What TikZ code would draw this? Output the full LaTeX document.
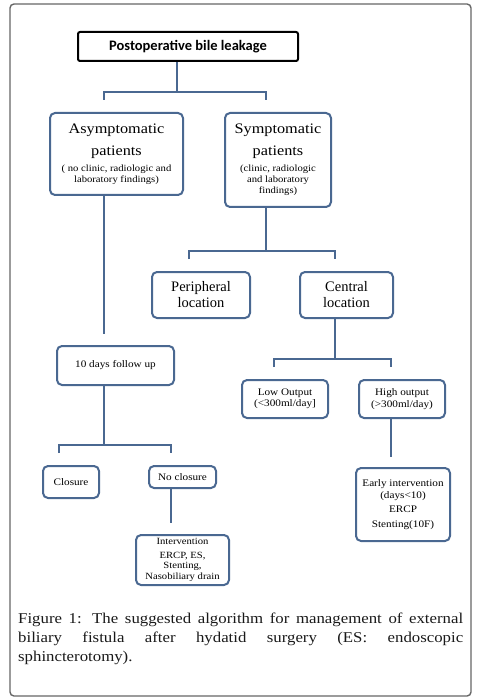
\documentclass[tikz,border=0pt]{standalone}
\usepackage{fontspec}
\setmainfont{Liberation Serif}
\newfontfamily\headfont{Carlito}
\newfontfamily\wideserif[FakeStretch=1.12]{Liberation Serif}
\newcommand{\bigtxt}{\fontsize{14.5}{16}\selectfont}
\newcommand{\smtxt}{\wideserif\fontsize{9.5}{11}\selectfont}
\newcommand{\tinytxt}{\wideserif\fontsize{10}{11.5}\selectfont}
\definecolor{flowblue}{HTML}{4A6891}
\hyphenpenalty=10000
\exhyphenpenalty=10000
\tolerance=10000
\begin{document}
\begin{tikzpicture}[
    x=1pt, y=-1pt,
    box/.style={draw=flowblue, line width=2pt, rounded corners=5pt, fill=white, align=center, inner sep=2pt, font=\smtxt},
    conn/.style={draw=flowblue, line width=2.4pt}
]
\useasboundingbox (0,0) rectangle (476,700);
\draw[gray!80!black, line width=1.4pt, rounded corners=4pt] (10,4) rectangle (471,696);

% top
\node[draw, line width=2pt, rounded corners=2pt, minimum width=220pt, minimum height=29pt, font=\headfont\bfseries\fontsize{14.5}{16}\selectfont] (leak) at (188,46.5) {Postoperative bile leakage};

% first level
\node[box, minimum width=133pt, minimum height=82pt] (asym) at (116.5,154) {\bigtxt Asymptomatic\\[8pt]\bigtxt patients\\[5pt]\smtxt ( no clinic, radiologic and\\\smtxt laboratory findings)};
\node[box, minimum width=106pt, minimum height=94pt] (sym) at (278,160) {\bigtxt Symptomatic\\[8pt]\bigtxt patients\\[5pt]\smtxt (clinic, radiologic\\\smtxt and laboratory\\\smtxt findings)};

% symptomatic branch
\node[box, minimum width=98pt, minimum height=46pt, font=\bigtxt] (peri) at (201,295) {Peripheral\\location};
\node[box, minimum width=93pt, minimum height=46pt, font=\bigtxt] (cent) at (346.5,295) {Central\\location};
\node[box, minimum width=86pt, minimum height=38pt, font=\tinytxt] (low) at (285,399) {Low Output\\(<300ml/day]};
\node[box, minimum width=86pt, minimum height=38pt, font=\tinytxt] (high) at (402,399) {High output\\(>300ml/day)};
\node[box, minimum width=94pt, minimum height=73pt, font=\tinytxt] (early) at (403,504.5) {Early intervention\\(days<10)\\[3pt]ERCP\\[3pt]Stenting(10F)};

% asymptomatic branch
\node[box, minimum width=117pt, minimum height=39pt, font=\tinytxt] (follow) at (115.5,365.5) {10 days follow up};
\node[box, minimum width=56pt, minimum height=32pt, font=\tinytxt] (clos) at (71,482) {Closure};
\node[box, minimum width=67pt, minimum height=22pt, font=\tinytxt] (noclos) at (182.5,477) {No closure};
\node[box, minimum width=93pt, minimum height=50pt, font=\wideserif\fontsize{9.5}{10.5}\selectfont, inner sep=1pt] (interv) at (182.5,560) {Intervention\\[3pt]ERCP, ES,\\Stenting,\\Nasobiliary drain};

% connectors
\coordinate (a1) at (104,100);
\coordinate (a2) at (266,100);
\draw[conn] ([xshift=-11pt]leak.south) -- ++(0,31);
\draw[conn] (a1) -- ++(0,-8) -| (a2);

\draw[conn] (asym.south -| a1) -- ++(0,138);

\coordinate (c1) at (189,259);
\coordinate (c2) at (335,259);
\draw[conn] (sym.south -| a2) -- ++(0,44);
\draw[conn] (c1) -- ++(0,-8) -| (c2);

\coordinate (d1) at (274,367);
\coordinate (d2) at (391,367);
\draw[conn] (cent.south -| c2) -- ++(0,41);
\draw[conn] (d1) -- ++(0,-8) -| (d2);
\draw[conn] (high.south -| d2) -- ++(0,38);

\coordinate (e1) at (59,453);
\coordinate (e2) at (171,453);
\draw[conn] (follow.south -| a1) -- ++(0,60);
\draw[conn] (e1) -- ++(0,-8) -| (e2);
\draw[conn] (noclos.south -| e2) -- ++(0,34);

% caption
\node[anchor=north west, text width=445pt, align=justify, inner sep=0pt, font=\wideserif\fontsize{15}{19}\selectfont, text=black!90] (cap) at (18,613)
  {Figure 1: The suggested algorithm for management of external\linebreak biliary fistula after hydatid surgery (ES: endoscopic\linebreak sphincterotomy).};
\end{tikzpicture}
\end{document}
